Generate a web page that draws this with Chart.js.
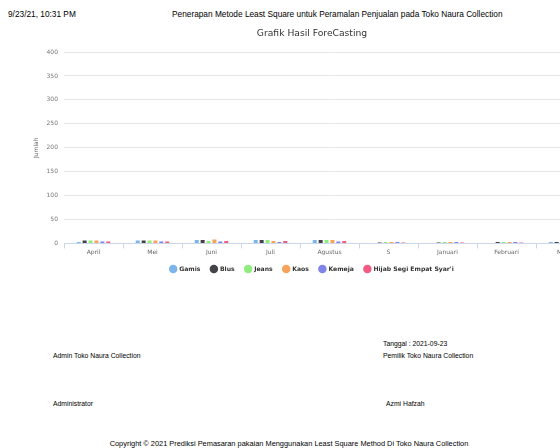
<!DOCTYPE html>
<html>
<head>
<meta charset="utf-8">
<script src="https://cdn.jsdelivr.net/npm/chart.js@4/dist/chart.umd.min.js"></script>
<style>
  html, body { margin: 0; padding: 0; width: 560px; height: 448px; overflow: hidden; background: #fff; }
  body { position: relative; font-family: "Liberation Sans", Arial, sans-serif; color: #000; }
  .t { position: absolute; white-space: nowrap; line-height: 1; }
  .h { font-size: 8.3px; }
  .f { font-size: 6.8px; }
  .c { font-size: 7.4px; }
  #wrap { position: absolute; left: 0; top: 25px; width: 624px; height: 257px; }
</style>
</head>
<body>
<div class="t h" style="left:8px; top:10px;">9/23/21, 10:31 PM</div>
<div class="t h" style="left:172px; top:10px;">Penerapan Metode Least Square untuk Peramalan Penjualan pada Toko Naura Collection</div>

<div id="wrap"><canvas id="chart"></canvas></div>

<div class="t f" style="left:383px; top:341px;">Tanggal : 2021-09-23</div>
<div class="t f" style="left:53px; top:353px;">Admin Toko Naura Collection</div>
<div class="t f" style="left:383px; top:353px;">Pemilik Toko Naura Collection</div>
<div class="t f" style="left:53px; top:401px;">Administrator</div>
<div class="t f" style="left:386px; top:401px;">Azmi Hafzah</div>
<div class="t c" style="left:0; width:578px; text-align:center; top:440px;">Copyright © 2021 Prediksi Pemasaran pakaian Menggunakan Least Square Method Di Toko Naura Collection</div>

<script>
// Forecast periods (x axis)
const months = ['April', 'Mei', 'Juni', 'Juli', 'Agustus', 'S', 'Januari', 'Februari', 'Maret'];

// Forecast quantities per product
const gamis  = [3, 6, 7, 7, 7, 1, 1, 1, 3];
const blus   = [6, 6, 7, 7, 7, 2, 2, 3, 3];
const jeans  = [6, 6, 5, 7, 7, 3, 3, 3, 3];
const kaos   = [6, 6, 8, 5, 7, 3, 3, 3, 3];
const kemeja = [4, 4, 4, 3, 4, 3, 3, 3, 3];
const hijab  = [4, 4, 5, 5, 5, 2, 2, 2, 2];

// Y axis range
const yMax = 400;
const yStep = 50;

const series = [
  { label: 'Gamis', data: gamis, color: '#7cb5ec' },
  { label: 'Blus', data: blus, color: '#434348' },
  { label: 'Jeans', data: jeans, color: '#90ed7d' },
  { label: 'Kaos', data: kaos, color: '#f7a35c' },
  { label: 'Kemeja', data: kemeja, color: '#8085e9' },
  { label: "Hijab Segi Empat Syar'i", data: hijab, color: '#f15c80' }
];

const FONT = '"DejaVu Sans", "Lucida Grande", sans-serif';

new Chart(document.getElementById('chart'), {
  type: 'bar',
  data: {
    labels: months,
    datasets: series.map(s => ({
      label: s.label,
      data: s.data,
      backgroundColor: s.color,
      borderWidth: 0,
      categoryPercentage: 0.6,
      barPercentage: 0.68
    }))
  },
  options: {
    responsive: true,
    maintainAspectRatio: false,
    animation: false,
    layout: { padding: 0 },
    plugins: {
      tooltip: { enabled: false },
      title: {
        display: true,
        text: 'Grafik Hasil ForeCasting',
        color: '#333333',
        font: { family: FONT, size: 9.2, weight: 'normal' },
        padding: { top: 3.5, bottom: 12.5 }
      },
      legend: {
        position: 'bottom',
        labels: {
          usePointStyle: true,
          pointStyle: 'circle',
          boxWidth: 6,
          boxHeight: 6,
          padding: 10.5,
          color: '#333333',
          font: { family: FONT, size: 6.1, weight: 'bold' }
        }
      }
    },
    scales: {
      x: {
        offset: true,
        afterFit: s => { s.height = 12; },
        grid: {
          display: true,
          offset: true,
          drawOnChartArea: false,
          drawTicks: true,
          tickLength: 5,
          color: '#ccd6eb'
        },
        border: { display: true, color: '#ccd6eb' },
        ticks: {
          color: '#666666',
          font: { family: FONT, size: 6 },
          padding: 0.5,
          maxRotation: 0,
          autoSkip: false
        }
      },
      y: {
        min: 0,
        max: yMax,
        afterFit: s => { s.width = 64; },
        grid: { color: '#e6e6e6', drawTicks: false },
        border: { display: false },
        ticks: {
          stepSize: yStep,
          color: '#777777',
          padding: 6,
          font: { family: FONT, size: 6 }
        },
        title: {
          display: true,
          text: 'Jumlah',
          color: '#666666',
          font: { family: FONT, size: 6 },
          padding: { top: 33, bottom: 0 }
        }
      },
      spacer: {
        type: 'linear',
        position: 'right',
        display: true,
        afterFit: s => { s.width = 29; },
        grid: { display: false },
        border: { display: false },
        ticks: { display: false }
      }
    }
  }
});
</script>
</body>
</html>
